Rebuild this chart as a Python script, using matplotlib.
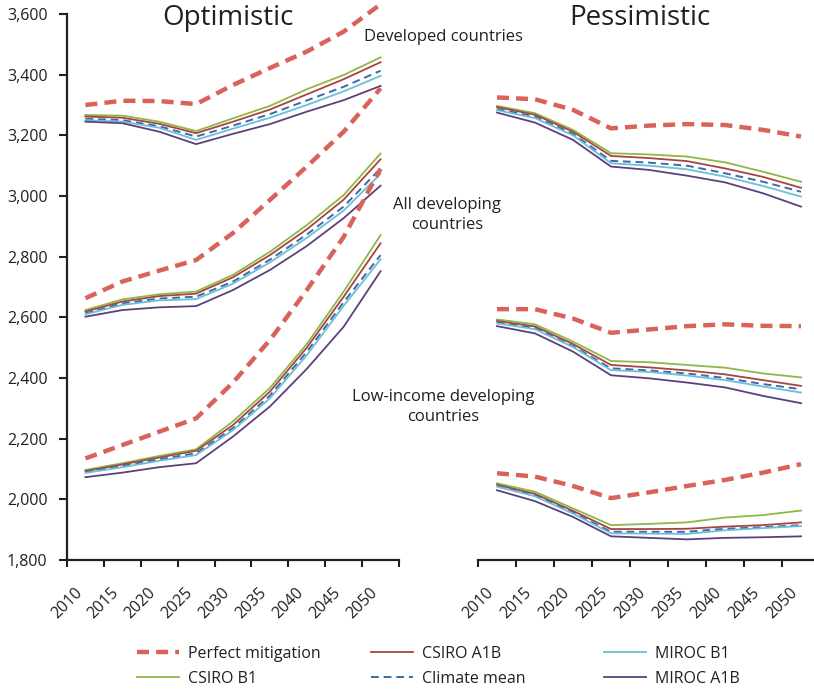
import matplotlib
matplotlib.use('Agg')
import matplotlib.pyplot as plt
import matplotlib.transforms as mtransforms
import numpy as np

plt.rcParams['font.family'] = ['Open Sans', 'DejaVu Sans']

years = ['2010', '2015', '2020', '2025', '2030', '2035', '2040', '2045', '2050']
series = ['Perfect mitigation', 'CSIRO B1', 'CSIRO A1B',
          'Climate mean', 'MIROC B1', 'MIROC A1B']

# kcal per capita per day
opt_developed = {
    'Perfect mitigation': [3300, 3314, 3313, 3303, 3366, 3422, 3476, 3542, 3632],
    'CSIRO B1': [3267, 3265, 3245, 3214, 3256, 3297, 3352, 3399, 3457],
    'CSIRO A1B': [3262, 3258, 3238, 3207, 3245, 3285, 3335, 3385, 3441],
    'Climate mean': [3255, 3250, 3230, 3196, 3232, 3270, 3315, 3360, 3413],
    'MIROC B1': [3250, 3245, 3225, 3185, 3222, 3258, 3300, 3345, 3396],
    'MIROC A1B': [3245, 3240, 3212, 3171, 3205, 3237, 3278, 3316, 3363],
}
opt_all_dev = {
    'Perfect mitigation': [2663, 2718, 2754, 2789, 2878, 2987, 3097, 3212, 3355],
    'CSIRO B1': [2624, 2659, 2676, 2685, 2740, 2816, 2904, 3003, 3140],
    'CSIRO A1B': [2619, 2652, 2670, 2678, 2732, 2805, 2890, 2988, 3121],
    'Climate mean': [2613, 2646, 2662, 2668, 2718, 2790, 2873, 2965, 3091],
    'MIROC B1': [2610, 2641, 2656, 2660, 2711, 2781, 2862, 2952, 3073],
    'MIROC A1B': [2602, 2624, 2633, 2637, 2690, 2756, 2835, 2927, 3034],
}
opt_low_income = {
    'Perfect mitigation': [2135, 2179, 2223, 2267, 2385, 2525, 2690, 2865, 3090],
    'CSIRO B1': [2097, 2119, 2143, 2165, 2257, 2367, 2512, 2685, 2871],
    'CSIRO A1B': [2093, 2115, 2138, 2160, 2245, 2355, 2500, 2668, 2844],
    'Climate mean': [2090, 2110, 2132, 2152, 2235, 2342, 2486, 2650, 2805],
    'MIROC B1': [2087, 2106, 2127, 2146, 2228, 2333, 2475, 2638, 2791],
    'MIROC A1B': [2073, 2088, 2106, 2119, 2207, 2306, 2430, 2569, 2752],
}
pes_developed = {
    'Perfect mitigation': [3325, 3319, 3284, 3223, 3232, 3237, 3234, 3218, 3196],
    'CSIRO B1': [3297, 3273, 3218, 3141, 3137, 3130, 3111, 3080, 3047],
    'CSIRO A1B': [3293, 3268, 3212, 3132, 3125, 3115, 3091, 3063, 3027],
    'Climate mean': [3287, 3262, 3205, 3116, 3110, 3100, 3075, 3047, 3014],
    'MIROC B1': [3283, 3257, 3200, 3108, 3100, 3088, 3064, 3033, 2998],
    'MIROC A1B': [3275, 3242, 3185, 3097, 3086, 3067, 3045, 3009, 2965],
}
pes_all_dev = {
    'Perfect mitigation': [2627, 2627, 2596, 2549, 2560, 2571, 2577, 2572, 2571],
    'CSIRO B1': [2593, 2577, 2520, 2456, 2452, 2443, 2434, 2415, 2402],
    'CSIRO A1B': [2588, 2570, 2512, 2443, 2435, 2425, 2412, 2393, 2374],
    'Climate mean': [2583, 2565, 2505, 2432, 2425, 2415, 2400, 2380, 2363],
    'MIROC B1': [2580, 2561, 2502, 2426, 2420, 2408, 2393, 2372, 2352],
    'MIROC A1B': [2571, 2547, 2487, 2409, 2399, 2385, 2369, 2341, 2317],
}
pes_low_income = {
    'Perfect mitigation': [2086, 2075, 2044, 2004, 2023, 2044, 2064, 2088, 2116],
    'CSIRO B1': [2053, 2025, 1970, 1915, 1919, 1924, 1940, 1948, 1963],
    'CSIRO A1B': [2048, 2018, 1962, 1902, 1902, 1903, 1910, 1915, 1924],
    'Climate mean': [2045, 2013, 1957, 1893, 1893, 1893, 1903, 1908, 1915],
    'MIROC B1': [2042, 2010, 1953, 1888, 1887, 1886, 1898, 1905, 1912],
    'MIROC A1B': [2030, 1994, 1942, 1878, 1873, 1868, 1873, 1875, 1878],
}

styles = {
    'Perfect mitigation': dict(color='#d9625b', lw=3.2, dashes=(2.7, 1.6)),
    'CSIRO B1': dict(color='#8db843', lw=1.3),
    'CSIRO A1B': dict(color='#a9433e', lw=1.3),
    'Climate mean': dict(color='#3d6aa6', lw=1.4, dashes=(4, 2.5)),
    'MIROC B1': dict(color='#6cbfd8', lw=1.3),
    'MIROC A1B': dict(color='#5e3f7d', lw=1.3),
}
ink = '#231f20'

W, H = 814, 691
fig = plt.figure(figsize=(W / 100, H / 100), dpi=100)
ax1 = fig.add_axes([67 / W, 131 / H, 332 / W, 546 / H])
ax2 = fig.add_axes([478 / W, 131 / H, 342 / W, 546 / H], sharey=ax1)

# nudge the rotated year labels a little to the right, like the original
shift = mtransforms.ScaledTranslation(5 / 72, 0, fig.dpi_scale_trans)

x = np.arange(len(years))
for ax, groups in [(ax1, [opt_developed, opt_all_dev, opt_low_income]),
                   (ax2, [pes_developed, pes_all_dev, pes_low_income])]:
    for g in groups:
        for name in series:
            ax.plot(x, g[name], label=name, clip_on=False, **styles[name])
    ax.set_xlim(-0.5, len(years) - 0.5)
    ax.set_xticks(np.arange(len(years) + 1) - 0.5)
    ax.set_xticklabels([])
    ax.set_xticks(x, minor=True)
    ax.set_xticklabels(years, minor=True, rotation=45, ha='right', va='top',
                       fontsize=11.5, color=ink)
    for lab in ax.get_xticklabels(minor=True):
        lab.set_transform(lab.get_transform() + shift)
    ax.tick_params(axis='x', which='major', direction='out', length=5,
                   width=1.5, color=ink)
    ax.tick_params(axis='x', which='minor', length=0, pad=18)
    for s in ['top', 'right']:
        ax.spines[s].set_visible(False)
    ax.spines['bottom'].set_linewidth(1.6)
    ax.spines['bottom'].set_color(ink)

ax1.set_ylim(1800, 3600)
ax1.set_yticks(np.arange(1800, 3601, 200))
ax1.set_yticklabels(['{:,}'.format(v) for v in range(1800, 3601, 200)],
                    fontsize=11.5, color=ink)
ax1.tick_params(axis='y', direction='out', length=6, width=1.5,
                color=ink, pad=8)
ax1.spines['left'].set_linewidth(1.6)
ax1.spines['left'].set_color(ink)
ax2.spines['left'].set_visible(False)
ax2.tick_params(axis='y', left=False, labelleft=False)

fig.text(228 / W, 1 - 18 / H, 'Optimistic', ha='center', va='center',
         fontsize=20, color=ink)
fig.text(640 / W, 1 - 18 / H, 'Pessimistic', ha='center', va='center',
         fontsize=20, color=ink)

fig.text(443 / W, 1 - 37 / H, 'Developed countries', ha='center',
         va='center', fontsize=12, color=ink)
fig.text(447 / W, 1 - 215 / H, 'All developing\ncountries', ha='center',
         va='center', fontsize=12, color=ink, linespacing=1.3)
fig.text(443 / W, 1 - 407 / H, 'Low-income developing\ncountries',
         ha='center', va='center', fontsize=12, color=ink,
         linespacing=1.3)

# three single-column legends so the columns sit at equal spacing
handles, labels = ax1.get_legend_handles_labels()
hmap = dict(zip(labels, handles))
legend_cols = [['Perfect mitigation', 'CSIRO B1'],
               ['CSIRO A1B', 'Climate mean'],
               ['MIROC B1', 'MIROC A1B']]
col_x = [137, 371, 604]
for xi, col in zip(col_x, legend_cols):
    fig.legend([hmap[n] for n in col], col, frameon=False,
               loc='upper left', bbox_to_anchor=(xi / W, 1 - 646 / H),
               borderpad=0, borderaxespad=0, fontsize=11.5,
               handlelength=2.6, handletextpad=0.6, labelspacing=0.55,
               labelcolor=ink)

fig.savefig('out.png', dpi=100)
